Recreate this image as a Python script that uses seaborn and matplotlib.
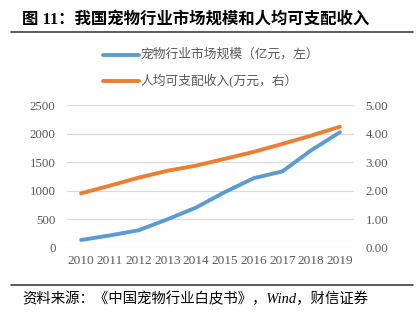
import matplotlib
matplotlib.use("Agg")
import matplotlib.pyplot as plt
import seaborn as sns
import pandas as pd
from matplotlib.lines import Line2D

# ---- data ----
years = ["2010", "2011", "2012", "2013", "2014", "2015", "2016", "2017", "2018", "2019"]
market_size = [140, 220, 310, 501, 708, 978, 1220, 1340, 1708, 2024]          # 亿元, left axis
income = [1.91, 2.18, 2.46, 2.70, 2.88, 3.12, 3.36, 3.64, 3.93, 4.24]         # 万元, right axis
left_ticks = [0, 500, 1000, 1500, 2000, 2500]
right_ticks = [0, 1, 2, 3, 4, 5]
right_tick_labels = ["0.00", "1.00", "2.00", "3.00", "4.00", "5.00"]
series_names = ["宠物行业市场规模（亿元，左）", "人均可支配收入(万元，右）"]
title = "图 11：我国宠物行业市场规模和人均可支配收入"
source = "资料来源：《中国宠物行业白皮书》，Wind，财信证券"

BLUE = "#5B9BD5"
ORANGE = "#ED7D31"
GRID = "#D9D9D9"
TICK = "#595959"

sns.set_theme(style="white")
plt.rcParams["font.family"] = ["Liberation Serif", "Noto Sans CJK SC", "DejaVu Sans"]

df = pd.DataFrame({"year": years, "size": market_size, "income": income})

W, H = 417, 322
fig = plt.figure(figsize=(W / 100, H / 100), dpi=100)

def fx(px):
    return px / W

def fy(py):
    return 1 - py / H

ax = fig.add_axes([fx(66.7), fy(248), fx(354.3) - fx(66.7), fy(105) - fy(248)])
ax2 = ax.twinx()

sns.lineplot(data=df, x="year", y="size", ax=ax, color=BLUE, lw=2.8, sort=False)
sns.lineplot(data=df, x="year", y="income", ax=ax2, color=ORANGE, lw=2.8, sort=False)

ax.set_xlim(-0.5, 9.5)
ax.set_ylim(0, 2500)
ax2.set_ylim(0, 5)
ax.set_yticks(left_ticks)
ax.set_yticklabels([str(t) for t in left_ticks])
ax2.set_yticks(right_ticks)
ax2.set_yticklabels(right_tick_labels)
ax.set_xlabel("")
ax.set_ylabel("")
ax2.set_ylabel("")

ax.grid(axis="y", color=GRID, lw=0.9)
ax.grid(axis="x", visible=False)
ax2.grid(False)
for a in (ax, ax2):
    for s in a.spines.values():
        s.set_visible(False)

ax.tick_params(axis="y", length=0, pad=8.0, labelsize=9.3, labelcolor=TICK)
ax.tick_params(axis="x", length=0, pad=5.0, labelsize=9.6, labelcolor=TICK)
ax2.tick_params(axis="y", length=0, pad=8.0, labelsize=9.3, labelcolor=TICK)

# title and rules
fig.text(fx(22), fy(20), title, fontsize=11.8, fontweight="bold", color="#000000",
         va="center", ha="left")
fig.add_artist(Line2D([fx(11), fx(413)], [fy(32.3), fy(32.3)], transform=fig.transFigure,
                      color="#404040", lw=1.2))
fig.add_artist(Line2D([fx(11), fx(413)], [fy(284.5), fy(284.5)], transform=fig.transFigure,
                      color="#404040", lw=1.2))
fig.text(fx(22), fy(299), source, fontsize=10.4, style="italic", color="#000000",
         va="center", ha="left")

# legend
for yy, col, name in [(54.5, BLUE, series_names[0]), (80.5, ORANGE, series_names[1])]:
    fig.add_artist(Line2D([fx(103), fx(139)], [fy(yy), fy(yy)], transform=fig.transFigure,
                          color=col, lw=2.8, solid_capstyle="round"))
    fig.text(fx(140.5), fy(yy), name, fontsize=9.2, color=TICK, va="center", ha="left")

fig.savefig("out.png", dpi=100)
